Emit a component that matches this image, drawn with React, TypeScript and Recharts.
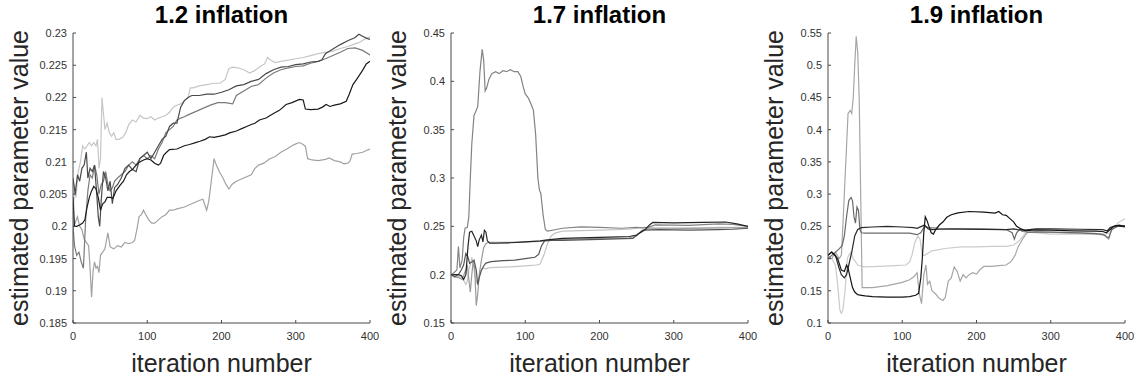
import React from 'react'
import { LineChart, Line, XAxis, YAxis } from 'recharts'

type Pt = [number, number]

// axis ticks
const ITER_TICKS = [0, 100, 200, 300, 400]
const P1_TICKS = [0.185, 0.19, 0.195, 0.2, 0.205, 0.21, 0.215, 0.22, 0.225, 0.23]
const P2_TICKS = [0.15, 0.2, 0.25, 0.3, 0.35, 0.4, 0.45]
const P3_TICKS = [0.1, 0.15, 0.2, 0.25, 0.3, 0.35, 0.4, 0.45, 0.5, 0.55]
const TITLES = ['1.2 inflation', '1.7 inflation', '1.9 inflation']

// ---- 1.2 inflation: [iteration, estimate] ----
const p1Light: Pt[] = [[0,0.2],[2,0.2065],[4,0.2045],[7,0.2085],[10,0.21],[13,0.2125],[16,0.212],[19,0.2125],[22,0.213],[25,0.2125],[28,0.213],[31,0.2125],[33,0.2135],[35,0.209],[37,0.2105],[39,0.22],[41,0.2175],[43,0.215],[46,0.216],[49,0.2145],[52,0.214],[55,0.2145],[58,0.2135],[62,0.2135],[67,0.2138],[71,0.2145],[75,0.2158],[80,0.2165],[85,0.2162],[90,0.2172],[95,0.2168],[100,0.2167],[105,0.217],[110,0.2165],[115,0.2168],[120,0.217],[125,0.2172],[130,0.2177],[135,0.2185],[140,0.2188],[145,0.219],[150,0.2195],[155,0.22],[158,0.2215],[162,0.2215],[170,0.2218],[180,0.222],[190,0.2222],[198,0.2222],[205,0.2228],[210,0.2245],[215,0.2247],[222,0.2246],[230,0.2243],[238,0.2238],[245,0.2242],[252,0.2248],[258,0.2252],[262,0.2262],[266,0.2258],[272,0.2254],[280,0.2256],[290,0.2258],[300,0.226],[310,0.2262],[320,0.2265],[330,0.2268],[340,0.227],[350,0.2272],[360,0.2276],[370,0.2279],[377,0.2282],[385,0.2285],[392,0.229],[400,0.2294]]
const p1Dark: Pt[] = [[0,0.2075],[3,0.205],[6,0.208],[9,0.207],[12,0.209],[15,0.2095],[18,0.2115],[20,0.2075],[23,0.209],[26,0.2085],[29,0.2095],[32,0.205],[34,0.2015],[36,0.2],[38,0.204],[41,0.2085],[44,0.2075],[47,0.2055],[50,0.207],[53,0.2035],[56,0.206],[60,0.2065],[65,0.2075],[70,0.209],[75,0.2095],[80,0.2088],[85,0.2085],[90,0.2105],[95,0.211],[100,0.2115],[105,0.2105],[110,0.2115],[115,0.2125],[120,0.2135],[125,0.214],[130,0.2155],[135,0.216],[140,0.216],[145,0.2185],[150,0.2195],[155,0.22],[160,0.2203],[170,0.2203],[180,0.2205],[190,0.2205],[200,0.2208],[210,0.2212],[220,0.2218],[230,0.222],[240,0.2225],[250,0.2228],[260,0.2237],[270,0.2243],[280,0.2247],[290,0.2248],[300,0.2251],[310,0.2252],[320,0.2255],[330,0.2256],[335,0.2258],[340,0.2268],[350,0.2275],[360,0.2282],[370,0.2288],[380,0.2293],[385,0.2298],[390,0.2295],[395,0.2292],[400,0.229]]
const p1Mid: Pt[] = [[0,0.2],[2,0.197],[5,0.1955],[8,0.196],[11,0.1945],[14,0.1935],[17,0.201],[20,0.2055],[23,0.208],[26,0.2075],[29,0.2095],[32,0.208],[35,0.205],[38,0.2065],[41,0.207],[44,0.2085],[47,0.2065],[50,0.2055],[53,0.206],[56,0.207],[60,0.2075],[65,0.208],[70,0.2085],[75,0.2095],[80,0.21],[85,0.2095],[90,0.2105],[95,0.211],[100,0.2105],[105,0.211],[110,0.2105],[115,0.212],[120,0.213],[125,0.2145],[130,0.215],[135,0.2155],[140,0.2165],[145,0.2168],[150,0.217],[155,0.2173],[165,0.2178],[175,0.2183],[185,0.2188],[195,0.2192],[205,0.2192],[215,0.219],[220,0.2203],[230,0.221],[240,0.2217],[250,0.222],[260,0.223],[270,0.2238],[280,0.2243],[290,0.2246],[300,0.2248],[310,0.2249],[320,0.2253],[330,0.2256],[340,0.226],[350,0.2265],[360,0.227],[370,0.2276],[380,0.2277],[390,0.2273],[400,0.2266]]
const p1Black: Pt[] = [[0,0.2045],[2,0.2],[5,0.2],[9,0.2002],[13,0.2005],[16,0.201],[19,0.203],[22,0.2045],[25,0.2055],[28,0.2062],[31,0.2058],[34,0.2045],[37,0.2025],[40,0.2035],[43,0.2038],[46,0.2045],[50,0.2045],[54,0.2044],[58,0.2055],[63,0.2063],[68,0.207],[72,0.208],[76,0.2085],[80,0.2088],[85,0.2095],[90,0.21],[95,0.2103],[100,0.2105],[105,0.2103],[110,0.2098],[115,0.2095],[118,0.2098],[122,0.211],[126,0.2115],[130,0.2119],[140,0.212],[150,0.2125],[157,0.2127],[165,0.213],[171,0.2132],[178,0.2135],[184,0.2139],[190,0.2138],[198,0.214],[205,0.2142],[211,0.2145],[220,0.2148],[228,0.2152],[234,0.2155],[240,0.2158],[245,0.216],[251,0.2165],[260,0.2168],[270,0.2175],[278,0.218],[287,0.2189],[295,0.2192],[305,0.2197],[310,0.2196],[313,0.2182],[320,0.2181],[330,0.2182],[336,0.2185],[341,0.2189],[346,0.2186],[352,0.2188],[360,0.219],[368,0.2194],[372,0.2205],[377,0.222],[382,0.2228],[386,0.2235],[390,0.2242],[395,0.2252],[400,0.2256]]
const p1Grey: Pt[] = [[0,0.2],[3,0.2005],[6,0.2015],[9,0.2],[12,0.1995],[15,0.198],[18,0.1975],[21,0.197],[23,0.1935],[25,0.189],[27,0.193],[29,0.1945],[31,0.1935],[33,0.1938],[35,0.1928],[37,0.1955],[40,0.196],[43,0.1965],[45,0.1978],[47,0.199],[50,0.1968],[55,0.1965],[60,0.197],[65,0.1968],[70,0.1975],[75,0.1973],[80,0.1975],[83,0.1978],[86,0.1995],[89,0.2015],[92,0.2018],[95,0.2025],[98,0.2018],[102,0.201],[106,0.2005],[110,0.2005],[115,0.201],[120,0.2015],[125,0.2018],[130,0.2025],[135,0.2025],[140,0.2027],[150,0.203],[160,0.2035],[170,0.204],[175,0.2042],[180,0.2025],[183,0.204],[186,0.2068],[190,0.2105],[193,0.2095],[197,0.2085],[202,0.2075],[206,0.2065],[210,0.2058],[214,0.2065],[220,0.207],[230,0.2075],[240,0.208],[245,0.209],[250,0.2095],[257,0.2098],[265,0.2105],[272,0.2108],[280,0.2115],[288,0.212],[295,0.2125],[300,0.2128],[305,0.213],[310,0.2127],[313,0.2124],[316,0.2105],[322,0.2103],[330,0.2102],[340,0.2104],[345,0.2106],[352,0.2102],[360,0.21],[365,0.2097],[370,0.2098],[373,0.2101],[376,0.2112],[382,0.2113],[390,0.2115],[396,0.2118],[400,0.212]]

// ---- 1.7 inflation ----
const p2Hump: Pt[] = [[0,0.2],[4,0.202],[8,0.205],[10,0.229],[12,0.207],[15,0.215],[17,0.238],[19,0.248],[22,0.249],[24,0.26],[26,0.3],[28,0.335],[31,0.365],[33,0.368],[36,0.374],[39,0.41],[42,0.433],[44,0.422],[46,0.39],[48,0.393],[51,0.402],[55,0.408],[60,0.41],[65,0.408],[70,0.411],[75,0.41],[80,0.412],[85,0.41],[90,0.41],[94,0.405],[97,0.395],[100,0.387],[104,0.383],[108,0.376],[111,0.37],[114,0.345],[117,0.3],[119,0.288],[121,0.284],[124,0.262],[127,0.247],[130,0.245],[140,0.2465],[150,0.248],[175,0.2495],[200,0.249],[230,0.248],[250,0.249],[258,0.2485],[265,0.249],[275,0.2515],[320,0.251],[360,0.2525],[380,0.252],[400,0.25]]
const p2Black: Pt[] = [[0,0.2],[5,0.2],[10,0.2],[14,0.199],[17,0.195],[20,0.2],[23,0.23],[25,0.244],[28,0.245],[31,0.24],[34,0.235],[36,0.229],[38,0.236],[41,0.241],[43,0.234],[45,0.246],[47,0.244],[49,0.235],[52,0.2325],[60,0.2325],[80,0.233],[100,0.234],[120,0.235],[130,0.236],[150,0.2375],[200,0.2385],[240,0.2395],[250,0.241],[262,0.247],[268,0.252],[272,0.254],[300,0.2535],[340,0.254],[370,0.2545],[385,0.2525],[400,0.25]]
const p2Dark: Pt[] = [[0,0.2],[5,0.198],[10,0.2],[14,0.205],[17,0.21],[20,0.222],[23,0.218],[25,0.2117],[28,0.213],[31,0.215],[34,0.2047],[36,0.19],[38,0.197],[41,0.2047],[44,0.209],[47,0.212],[54,0.2135],[70,0.2145],[86,0.215],[100,0.2165],[113,0.218],[118,0.221],[122,0.23],[126,0.235],[135,0.2355],[150,0.2355],[200,0.2365],[245,0.2375],[252,0.242],[260,0.246],[280,0.2465],[320,0.246],[360,0.2465],[380,0.247],[400,0.248]]
const p2Light: Pt[] = [[0,0.2],[5,0.197],[10,0.198],[15,0.197],[18,0.193],[20,0.19],[22,0.193],[24,0.205],[26,0.21],[28,0.218],[30,0.211],[32,0.2],[34,0.193],[36,0.19],[38,0.197],[41,0.205],[44,0.207],[47,0.206],[50,0.207],[60,0.2075],[80,0.208],[100,0.209],[115,0.21],[120,0.211],[125,0.22],[130,0.232],[135,0.24],[140,0.243],[150,0.245],[200,0.246],[240,0.247],[250,0.248],[260,0.249],[280,0.2485],[320,0.2485],[360,0.249],[400,0.249]]
const p2Grey: Pt[] = [[0,0.2],[5,0.198],[10,0.197],[15,0.195],[20,0.205],[22,0.21],[24,0.195],[26,0.182],[28,0.2],[30,0.215],[32,0.205],[34,0.168],[36,0.18],[38,0.2],[41,0.215],[44,0.228],[47,0.232],[50,0.2335],[80,0.2335],[100,0.234],[120,0.2345],[135,0.236],[200,0.2375],[240,0.238],[250,0.24],[257,0.246],[265,0.2475],[300,0.2475],[340,0.248],[380,0.2485],[400,0.2485]]

// ---- 1.9 inflation ----
const p3Spike: Pt[] = [[0,0.2],[5,0.2],[10,0.21],[15,0.2],[18,0.205],[20,0.25],[24,0.35],[27,0.425],[30,0.43],[32,0.425],[34,0.45],[36,0.5],[38,0.545],[40,0.52],[42,0.45],[44,0.3],[46,0.155],[60,0.155],[80,0.158],[100,0.163],[110,0.167],[116,0.172],[120,0.178],[123,0.145],[126,0.13],[129,0.175],[132,0.19],[134,0.16],[137,0.165],[140,0.15],[145,0.145],[150,0.138],[155,0.135],[158,0.14],[162,0.165],[166,0.17],[170,0.187],[174,0.18],[178,0.165],[182,0.175],[186,0.17],[190,0.175],[195,0.178],[200,0.176],[205,0.183],[210,0.188],[220,0.188],[230,0.189],[240,0.19],[247,0.196],[252,0.205],[256,0.218],[262,0.23],[268,0.24],[280,0.242],[320,0.24],[360,0.239],[372,0.236],[378,0.23],[382,0.245],[390,0.25],[400,0.25]]
const p3Top: Pt[] = [[0,0.205],[5,0.21],[10,0.205],[15,0.185],[18,0.175],[22,0.17],[25,0.175],[28,0.19],[32,0.21],[36,0.235],[40,0.245],[45,0.248],[60,0.249],[80,0.25],[100,0.249],[115,0.248],[120,0.247],[126,0.25],[130,0.252],[135,0.246],[140,0.245],[150,0.2455],[180,0.2455],[210,0.2452],[240,0.245],[250,0.246],[255,0.245],[265,0.244],[280,0.246],[300,0.246],[340,0.2455],[370,0.245],[376,0.243],[380,0.248],[388,0.251],[395,0.25],[400,0.249]]
const p3Bump: Pt[] = [[0,0.2],[5,0.205],[10,0.21],[15,0.215],[19,0.22],[22,0.235],[25,0.265],[28,0.29],[31,0.295],[33,0.29],[35,0.265],[37,0.255],[39,0.28],[41,0.275],[43,0.245],[45,0.24],[50,0.2395],[80,0.2395],[110,0.2395],[120,0.237],[125,0.24],[130,0.25],[135,0.248],[150,0.247],[200,0.246],[240,0.245],[248,0.24],[251,0.23],[254,0.24],[258,0.245],[262,0.242],[270,0.241],[300,0.241],[340,0.24],[370,0.238],[378,0.232],[382,0.245],[390,0.25],[400,0.251]]
const p3Pale: Pt[] = [[0,0.205],[5,0.2],[10,0.19],[13,0.16],[16,0.12],[18,0.115],[20,0.12],[23,0.15],[26,0.2],[28,0.205],[31,0.21],[34,0.2],[37,0.195],[40,0.19],[45,0.188],[50,0.187],[70,0.188],[90,0.189],[105,0.19],[110,0.195],[113,0.205],[117,0.225],[121,0.235],[124,0.23],[127,0.205],[130,0.205],[140,0.212],[160,0.216],[180,0.218],[200,0.218],[220,0.219],[240,0.219],[250,0.221],[258,0.228],[265,0.238],[270,0.241],[300,0.238],[340,0.238],[370,0.237],[380,0.24],[390,0.255],[400,0.262]]
const p3Low: Pt[] = [[0,0.205],[5,0.21],[9,0.205],[13,0.2],[18,0.182],[22,0.18],[25,0.19],[27,0.185],[30,0.17],[33,0.155],[36,0.148],[40,0.144],[45,0.143],[50,0.142],[60,0.141],[80,0.14],[100,0.14],[110,0.141],[118,0.143],[122,0.146],[125,0.17],[127,0.2],[129,0.24],[131,0.265],[133,0.26],[136,0.25],[139,0.24],[142,0.238],[145,0.245],[150,0.252],[155,0.257],[160,0.264],[166,0.268],[175,0.271],[190,0.273],[210,0.272],[225,0.2705],[230,0.273],[235,0.268],[240,0.267],[245,0.262],[250,0.257],[254,0.25],[260,0.246],[266,0.2435],[280,0.2445],[300,0.244],[330,0.243],[360,0.2425],[370,0.242],[375,0.24],[380,0.245],[385,0.25],[392,0.252],[400,0.25]]

const AXIS = '#4a4a4a'
const TEXT = '#333333'
const FONT = '"Liberation Sans", Arial, Helvetica, sans-serif'

const rows = (pts: Pt[]) => pts.map(([x, y]) => ({ x, y }))

const BottomTick = ({ x, y, payload }: any) => (
  <g>
    <line x1={x} y1={y} x2={x} y2={y - 3} stroke={AXIS} />
    <text x={x} y={y + 17} textAnchor="middle" fontSize={11} fontFamily={FONT} fill={TEXT}>
      {payload.value}
    </text>
  </g>
)
const TopTick = ({ x, y }: any) => <line x1={x} y1={y} x2={x} y2={y + 3} stroke={AXIS} />
const LeftTick = ({ x, y, payload }: any) => (
  <g>
    <line x1={x} y1={y} x2={x + 3} y2={y} stroke={AXIS} />
    <text x={x - 6} y={y + 4} textAnchor="end" fontSize={11} fontFamily={FONT} fill={TEXT}>
      {payload.value}
    </text>
  </g>
)
const RightTick = ({ x, y }: any) => <line x1={x} y1={y} x2={x - 3} y2={y} stroke={AXIS} />

const panels = [
  {
    left: 0, plotLeft: 73, plotRight: 370, ticks: P1_TICKS,
    series: [
      { pts: p1Light, color: '#c6c6c6' },
      { pts: p1Grey, color: '#a2a2a2' },
      { pts: p1Mid, color: '#7a7a7a' },
      { pts: p1Dark, color: '#4a4a4a' },
      { pts: p1Black, color: '#1a1a1a' },
    ],
  },
  {
    left: 380, plotLeft: 71, plotRight: 368, ticks: P2_TICKS,
    series: [
      { pts: p2Light, color: '#c4c4c4' },
      { pts: p2Grey, color: '#9a9a9a' },
      { pts: p2Hump, color: '#838383' },
      { pts: p2Dark, color: '#555555' },
      { pts: p2Black, color: '#242424' },
    ],
  },
  {
    left: 755, plotLeft: 73, plotRight: 370, ticks: P3_TICKS,
    series: [
      { pts: p3Pale, color: '#cbcbcb' },
      { pts: p3Spike, color: '#a6a6a6' },
      { pts: p3Bump, color: '#6a6a6a' },
      { pts: p3Top, color: '#2a2a2a' },
      { pts: p3Low, color: '#141414' },
    ],
  },
]

const W = 380
const H = 382
const Y_AXIS_W = 60

function Panel({ cfg }: { cfg: (typeof panels)[number] }) {
  const domain = [cfg.ticks[0], cfg.ticks[cfg.ticks.length - 1]]
  return (
    <div style={{ position: 'absolute', left: cfg.left, top: 0 }}>
      <LineChart
        width={W}
        height={H}
        margin={{ top: 33, right: W - cfg.plotRight, bottom: 29, left: cfg.plotLeft - Y_AXIS_W }}
      >
        <XAxis
          type="number" dataKey="x" domain={[0, 400]} ticks={ITER_TICKS} allowDataOverflow
          height={30} tickSize={0} tickMargin={0} tickLine={false} interval={0}
          axisLine={{ stroke: AXIS }} tick={BottomTick}
        />
        <XAxis
          xAxisId="top" orientation="top" type="number" domain={[0, 400]} ticks={ITER_TICKS} allowDataOverflow
          height={0} tickSize={0} tickMargin={0} tickLine={false} interval={0}
          axisLine={{ stroke: AXIS }} tick={TopTick}
        />
        <YAxis
          type="number" domain={domain} ticks={cfg.ticks} allowDataOverflow
          width={Y_AXIS_W} tickSize={0} tickMargin={0} tickLine={false} interval={0}
          axisLine={{ stroke: AXIS }} tick={LeftTick}
        />
        <YAxis
          yAxisId="right" orientation="right" type="number" domain={domain} ticks={cfg.ticks} allowDataOverflow
          width={0} tickSize={0} tickMargin={0} tickLine={false} interval={0}
          axisLine={{ stroke: AXIS }} tick={RightTick}
        />
        {cfg.series.map((s, i) => (
          <Line
            key={i}
            data={rows(s.pts)}
            dataKey="y"
            type="linear"
            stroke={s.color}
            strokeWidth={1.2}
            dot={false}
            activeDot={false}
            isAnimationActive={false}
          />
        ))}
      </LineChart>
    </div>
  )
}

export default function App() {
  return (
    <div style={{ position: 'absolute', left: 0, top: 0, width: 1135, height: 382, background: '#fff' }}>
      {panels.map((p, i) => (
        <Panel key={i} cfg={p} />
      ))}
      <svg width={1135} height={382} style={{ position: 'absolute', left: 0, top: 0, pointerEvents: 'none' }}>
        {panels.map((p, i) => {
          const cx = p.left + (p.plotLeft + p.plotRight) / 2
          const lx = p.left + p.plotLeft - 45
          return (
            <g key={i} fontFamily={FONT}>
              <text x={cx} y={23} textAnchor="middle" fontSize={24} fontWeight="bold" fill="#000">
                {TITLES[i]}
              </text>
              <text x={cx} y={372} textAnchor="middle" fontSize={25} fill="#262626">
                iteration number
              </text>
              <text
                x={lx} y={178} textAnchor="middle" fontSize={25} fill="#262626"
                transform={`rotate(-90 ${lx} ${178})`}
                dominantBaseline="auto"
              >
                estimated parameter value
              </text>
            </g>
          )
        })}
      </svg>
    </div>
  )
}
